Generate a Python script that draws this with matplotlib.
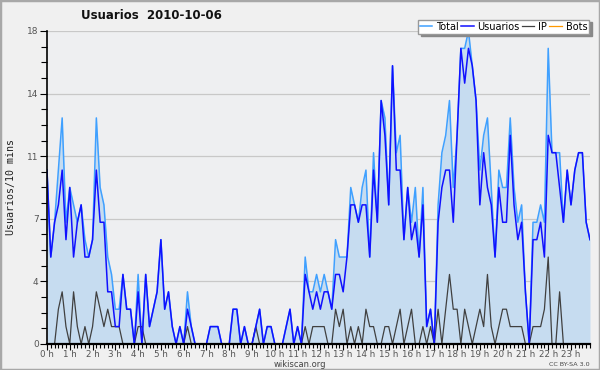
import numpy as np
import matplotlib
matplotlib.use("Agg")
import matplotlib.pyplot as plt
from matplotlib.ticker import FixedLocator, MultipleLocator
from matplotlib.patches import Rectangle

# 10-minute slots over the day (144 values per series)
total = [10, 5, 7, 10, 13, 7, 9, 8, 7, 8, 6, 5, 6, 13, 9, 8, 5, 4, 2, 2, 4, 2, 2, 0,
         4, 0, 4, 1, 2, 3, 6, 2, 3, 1, 0, 1, 0, 3, 1, 0, 0, 0, 0, 1, 1, 1, 0, 0,
         0, 2, 2, 0, 1, 0, 0, 1, 2, 0, 1, 1, 0, 0, 0, 1, 2, 0, 1, 0, 5, 3, 3, 4,
         3, 4, 3, 2, 6, 5, 5, 5, 9, 8, 7, 9, 10, 5, 11, 7, 14, 13, 8, 16, 11, 12, 6, 9,
         7, 9, 5, 9, 1, 2, 0, 8, 11, 12, 14, 9, 12, 17, 17, 18, 16, 14, 10, 12, 13, 9,
         5, 10, 9, 9, 13, 9, 7, 8, 3, 0, 7, 7, 8, 7, 17, 11, 11, 11, 7, 10, 8, 10, 11, 11,
         7, 6]
usuarios = [10, 5, 7, 8, 10, 6, 9, 5, 7, 8, 5, 5, 6, 10, 7, 7, 3, 3, 1, 1, 4, 2, 2, 0,
            3, 0, 4, 1, 2, 3, 6, 2, 3, 1, 0, 1, 0, 2, 1, 0, 0, 0, 0, 1, 1, 1, 0, 0,
            0, 2, 2, 0, 1, 0, 0, 1, 2, 0, 1, 1, 0, 0, 0, 1, 2, 0, 1, 0, 4, 3, 2, 3,
            2, 3, 3, 2, 4, 4, 3, 5, 8, 8, 7, 8, 8, 5, 10, 7, 14, 12, 8, 16, 10, 10, 6, 9,
            6, 7, 5, 8, 1, 2, 0, 7, 9, 10, 10, 7, 12, 17, 15, 17, 16, 14, 8, 11, 9, 8,
            5, 9, 7, 7, 12, 8, 6, 7, 3, 0, 6, 6, 7, 5, 12, 11, 11, 9, 7, 10, 8, 10, 11, 11,
            7, 6]
ip = [0, 0, 0, 2, 3, 1, 0, 3, 1, 0, 1, 0, 1, 3, 2, 1, 2, 1, 1, 1, 0, 0, 0, 0,
      1, 1, 0, 0, 0, 0, 0, 0, 0, 0, 0, 0, 0, 1, 0, 0, 0, 0, 0, 0, 0, 0, 0, 0,
      0, 0, 0, 0, 0, 0, 0, 1, 0, 0, 0, 0, 0, 0, 0, 0, 0, 0, 0, 0, 1, 0, 1, 1,
      1, 1, 0, 0, 2, 1, 2, 0, 1, 0, 1, 0, 2, 1, 1, 0, 0, 1, 1, 0, 1, 2, 0, 1,
      2, 0, 0, 1, 0, 1, 0, 2, 0, 2, 4, 2, 2, 0, 2, 1, 0, 1, 2, 1, 4, 1, 0, 1,
      2, 2, 1, 1, 1, 1, 0, 0, 1, 1, 1, 2, 5, 0, 0, 3, 0, 0, 0, 0, 0, 0, 0, 0]
bots = [0, 0, 0, 0, 0, 0, 0, 0, 0, 0, 0, 0, 0, 0, 0, 0, 0, 0, 0, 0, 0, 0, 0, 0,
        0, 0, 0, 0, 0, 0, 0, 0, 0, 0, 0, 0, 0, 0, 0, 0, 0, 0, 0, 0, 0, 0, 0, 0,
        0, 0, 0, 0, 0, 0, 0, 0, 0, 0, 0, 0, 0, 0, 0, 0, 0, 0, 0, 0, 0, 0, 0, 0,
        0, 0, 0, 0, 0, 0, 0, 0, 0, 0, 0, 0, 0, 0, 0, 0, 0, 0, 0, 0, 0, 0, 0, 0,
        0, 0, 0, 0, 0, 0, 0, 0, 0, 0, 0, 0, 0, 0, 0, 0, 0, 0, 0, 0, 0, 0, 0, 0,
        0, 0, 0, 0, 0, 0, 0, 0, 0, 0, 0, 0, 0, 0, 0, 0, 0, 0, 0, 0, 0, 0, 0, 0]

hour_labels = ['0 h', '1 h', '2 h', '3 h', '4 h', '5 h', '6 h', '7 h', '8 h', '9 h',
               '10 h', '11 h', '12 h', '13 h', '14 h', '15 h', '16 h', '17 h',
               '18 h', '19 h', '20 h', '21 h', '22 h', '23 h']
y_ticks = [0, 3.6, 7.2, 10.8, 14.4, 18]
y_labels = ['0', '4', '7', '11', '14', '18']

slots = np.arange(len(total))

fig = plt.figure(figsize=(6, 3.7), dpi=100, facecolor='#f0f0f0')
ax = fig.add_axes([0.0783, 0.0703, 0.905, 0.846])
ax.set_facecolor('#eeeff1')

ax.fill_between(slots, total, color='#c6dcf0', lw=0, zorder=1)
ax.plot(slots, total, color='#3fa0ff', lw=1.1, label='Total', zorder=3)
ax.plot(slots, usuarios, color='#1010ff', lw=1.1, label='Usuarios', zorder=4)
ax.plot(slots, ip, color='#404040', lw=0.9, label='IP', zorder=3.5)
ax.plot(slots, bots, color='#ff9900', lw=0.9, label='Bots', zorder=2)

ax.set_xlim(0, len(total) - 1)
ax.set_ylim(0, 18)

ax.xaxis.set_major_locator(FixedLocator(np.arange(0, 144, 6)))
ax.set_xticklabels(hour_labels)
ax.xaxis.set_minor_locator(MultipleLocator(1))
ax.yaxis.set_major_locator(FixedLocator(y_ticks))
ax.set_yticklabels(y_labels)
ax.yaxis.set_minor_locator(MultipleLocator(0.9))

ax.tick_params(axis='x', which='major', length=4, width=0.8, pad=0.5,
               labelsize=6.3, labelcolor='#555555')
ax.tick_params(axis='x', which='minor', length=3, width=0.8)
ax.tick_params(axis='y', which='major', length=5, width=0.8, pad=1,
               labelsize=6.5, labelcolor='#555555')
ax.tick_params(axis='y', which='minor', length=4, width=0.8)

ax.grid(axis='y', which='major', color='#c8c8c8', lw=0.9, zorder=0)
ax.set_axisbelow(True)
for side in ['top', 'right']:
    ax.spines[side].set_visible(False)
ax.spines['left'].set_linewidth(1.2)
ax.spines['bottom'].set_linewidth(1.6)
ax.spines['bottom'].set_zorder(6)
ax.spines['left'].set_zorder(6)

ax.set_ylabel('Usuarios/10 mins', family='DejaVu Sans Mono', fontsize=7.2,
              color='#222222', labelpad=8)

fig.text(0.252, 0.957, 'Usuarios  2010-10-06', ha='center', va='center',
         fontsize=8.5, fontweight='bold', color='#111111')

fig.legend(loc='upper right', bbox_to_anchor=(0.99, 0.96), ncol=4,
           fontsize=7, handlelength=1.3, handletextpad=0.4, columnspacing=0.2,
           borderpad=0.2, fancybox=False, shadow={'color': '#888888', 'alpha': 1,
                                                  'ox': 2, 'oy': -2},
           framealpha=1, edgecolor='#999999', facecolor='white')

fig.text(0.5, 0.016, 'wikiscan.org', ha='center', va='center', fontsize=6,
         color='#444444')
fig.text(0.982, 0.016, 'CC BY-SA 3.0', ha='right', va='center', fontsize=4.6,
         color='#444444')

fig.patches.append(Rectangle((0, 0), 1, 1, transform=fig.transFigure, fill=False,
                             edgecolor='#a8a8a8', lw=2.5))

fig.savefig('out.png', dpi=100, facecolor=fig.get_facecolor())
